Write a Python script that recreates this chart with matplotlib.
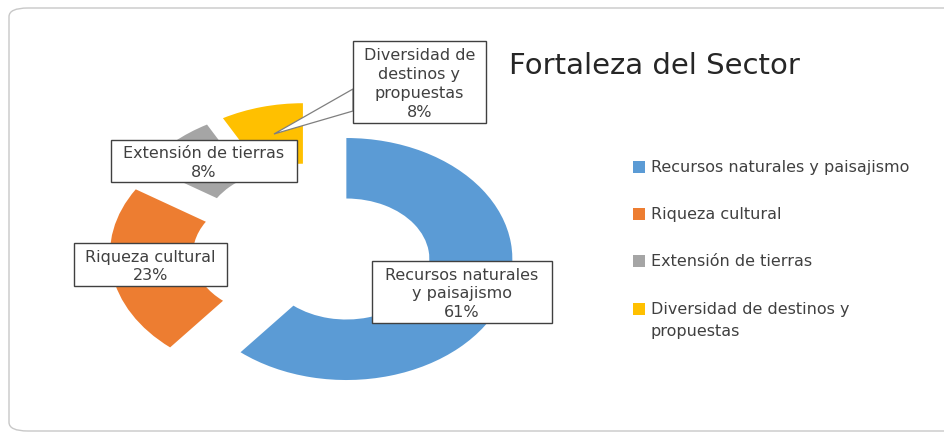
import matplotlib
matplotlib.use("Agg")
import matplotlib.pyplot as plt
from matplotlib.patches import Rectangle, Polygon, FancyBboxPatch

# ---- data ----
categories = ["Recursos naturales y paisajismo", "Riqueza cultural",
              "Extensión de tierras", "Diversidad de destinos y propuestas"]
values = [61, 23, 8, 8]
box_names = ["Recursos naturales\ny paisajismo", "Riqueza cultural",
             "Extensión de tierras", "Diversidad de\ndestinos y\npropuestas"]
legend_names = ["Recursos naturales y paisajismo", "Riqueza cultural",
                "Extensión de tierras", "Diversidad de destinos y\npropuestas"]
colors = ["#5B9BD5", "#ED7D31", "#A5A5A5", "#FFC000"]
title = "Fortaleza del Sector"

W, H = 945, 435
plt.rcParams['font.family'] = ['DejaVu Sans']
fig = plt.figure(figsize=(W / 100, H / 100), dpi=100)
fig.patch.set_facecolor("white")


def px(x, y):
    return (x / W, 1 - y / H)


# outer rounded frame
frame = FancyBboxPatch(px(9, 432), (W - 9 + 20) / W, (432 - 9) / H,
                       boxstyle="round,pad=0,rounding_size=0.02",
                       transform=fig.transFigure, fc="none", ec="#c8c8c8",
                       lw=1.0, zorder=-1)
fig.patches.append(frame)

# axes placement: center at pixel (312, 251), 166 px/unit in x, 121 px/unit in y
ax_l, ax_r, ax_t, ax_b = 60, 560, 40, 420
cx, cy, sx, sy = 312, 251, 166, 121
ax = fig.add_axes([ax_l / W, (H - ax_b) / H, (ax_r - ax_l) / W, (ax_b - ax_t) / H])
ax.set_zorder(1)
ax.pie(values, colors=colors, startangle=90, counterclock=False,
       explode=[0.22] * len(values), wedgeprops=dict(width=0.5, linewidth=0))
ax.set_aspect('auto')
ax.set_xlim((ax_l - cx) / sx, (ax_r - cx) / sx)
ax.set_ylim(-(ax_b - cy) / sy, (cy - ax_t) / sy)
ax.axis('off')

# overlay axes for the callouts / labels, in pixel coordinates
ov = fig.add_axes([0, 0, 1, 1])
ov.set_zorder(2)
ov.set_xlim(0, W)
ov.set_ylim(H, 0)
ov.axis('off')
ov.patch.set_alpha(0)

# callout leader for the yellow segment
ov.add_patch(Polygon([(274, 135), (353, 90), (353, 112)], closed=True,
                     fc="white", ec="#7f7f7f", lw=0.9, zorder=5))

# data label boxes (pixel boxes: x0, x1, y0, y1)
boxes = [(372, 552, 262, 324), (74, 227, 244, 287),
         (111, 297, 141, 183), (353, 486, 42, 124)]
for (x0, x1, y0, y1), name, v in zip(boxes, box_names, values):
    ov.add_patch(Rectangle((x0, y0), x1 - x0, y1 - y0, fc="white",
                           ec="#404040", lw=1.0, zorder=6))
    ov.text((x0 + x1) / 2, (y0 + y1) / 2 + 1, f"{name}\n{v}%",
            ha="center", va="center", fontsize=11.5, color="#404040",
            linespacing=1.32, zorder=7)

# title
ov.text(509, 66, title, ha="left", va="center", fontsize=21,
        color="#262626")

# legend (manual, handle aligned with the first line)
leg_y = [168, 215, 262, 310]
for y, name, c in zip(leg_y, legend_names, colors):
    ov.add_patch(Rectangle((633, y - 6), 12, 12, fc=c, ec="none"))
    ov.text(651, y - 8, name, ha="left", va="top", fontsize=11.5,
            color="#404040", linespacing=1.55)

fig.savefig("out.png", dpi=100)
